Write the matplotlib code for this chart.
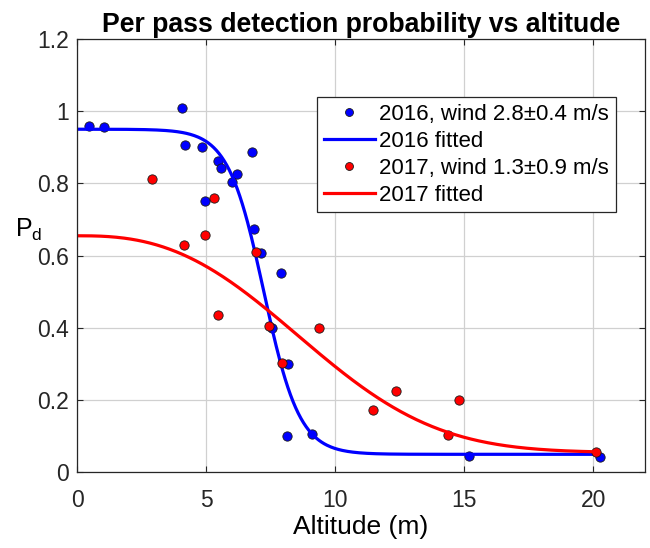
import numpy as np
import matplotlib
matplotlib.use("Agg")
import matplotlib.pyplot as plt

plt.rcParams['font.family'] = ['Liberation Sans', 'DejaVu Sans']

# 2016 measurements (altitude m, detection probability)
alt_2016 = [0.45, 1.03, 4.06, 4.17, 4.83, 4.95, 5.45, 5.57, 5.99, 6.19,
            6.77, 6.85, 7.12, 7.54, 7.89, 8.12, 8.16, 9.1, 15.18, 20.26]
pd_2016 = [0.96, 0.957, 1.01, 0.907, 0.901, 0.751, 0.862, 0.843, 0.804, 0.826,
           0.887, 0.674, 0.607, 0.399, 0.551, 0.101, 0.299, 0.107, 0.046, 0.043]

# 2017 measurements
alt_2017 = [2.9, 4.14, 4.95, 5.3, 5.45, 6.93, 7.43, 7.93, 9.37, 11.46,
            12.35, 14.37, 14.79, 20.1]
pd_2017 = [0.8125, 0.629, 0.657, 0.76, 0.435, 0.61, 0.404, 0.304, 0.401, 0.174,
           0.224, 0.104, 0.201, 0.057]

# fitted curve parameters
fit_2016 = dict(top=0.95, bottom=0.05, mid=7.23, width=0.69)
fit_2017 = dict(top=0.655, bottom=0.055, scale=10.3, shape=2.6)

legend_labels = [u'2016, wind 2.8\u00b10.4 m/s', '2016 fitted',
                 u'2017, wind 1.3\u00b10.9 m/s', '2017 fitted']


def curve_2016(x, p):
    return p['bottom'] + (p['top'] - p['bottom']) / (1 + np.exp((x - p['mid']) / p['width']))


def curve_2017(x, p):
    return p['bottom'] + (p['top'] - p['bottom']) * np.exp(-(x / p['scale']) ** p['shape'])


xs = np.linspace(0, 20.1, 400)

fig = plt.figure(figsize=(6.5, 5.48), dpi=100)
ax = fig.add_axes([0.119, 0.138, 0.873, 0.791])

ms = 6.7
ax.plot(alt_2016, pd_2016, 'o', color='#0000ff', mec='#1a1a1a', mew=0.6, ms=ms, label=legend_labels[0])
ax.plot(xs, curve_2016(xs, fit_2016), '-', color='#0000ff', lw=2.3, label=legend_labels[1])
ax.plot(alt_2017, pd_2017, 'o', color='#ff0000', mec='#1a1a1a', mew=0.6, ms=ms, label=legend_labels[2])
ax.plot(xs, curve_2017(xs, fit_2017), '-', color='#ff0000', lw=2.3, label=legend_labels[3])

ax.set_xlim(0, 22)
ax.set_ylim(0, 1.2)
ax.set_xticks([0, 5, 10, 15, 20])
ax.set_yticks([0, 0.2, 0.4, 0.6, 0.8, 1.0, 1.2])
ax.set_yticklabels(['0', '0.2', '0.4', '0.6', '0.8', '1', '1.2'])
ax.grid(True, color='#d0d0d0', lw=0.9)
ax.set_axisbelow(True)
ax.tick_params(direction='in', top=True, right=True, length=4, width=0.8,
               labelsize=16.5, colors='#262626', pad=6)
ax.tick_params(axis='x', pad=12)
for s in ax.spines.values():
    s.set_color('#262626')
    s.set_linewidth(0.9)

ax.set_title('Per pass detection probability vs altitude', fontsize=19.2,
             fontweight='bold', pad=5)
ax.set_xlabel('Altitude (m)', fontsize=19, labelpad=2)
ax.set_ylabel(r'P$_\mathregular{d}$', fontsize=18, rotation=0)
ax.yaxis.set_label_coords(-0.085, 0.53)

leg = ax.legend(loc='upper left', bbox_to_anchor=(0.4877, 0.823),
                bbox_transform=fig.transFigure, borderaxespad=0,
                fontsize=16, fancybox=False, framealpha=1, edgecolor='#262626',
                handlelength=2.3, handletextpad=0.2, labelspacing=0.27,
                borderpad=0.3, markerscale=0.85)
leg.get_frame().set_linewidth(0.9)

fig.savefig('out.png', dpi=100)
